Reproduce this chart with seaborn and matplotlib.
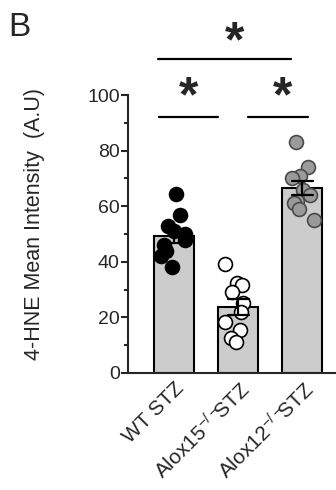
import matplotlib.pyplot as plt
import numpy as np
import pandas as pd
import seaborn as sns

# values (4-HNE mean intensity per animal)
groups = ["WT STZ", "Alox15 STZ", "Alox12 STZ"]
tick_labels = ["WT STZ", r"Alox15$^{-/-}\!\!$STZ", r"Alox12$^{-/-}\!\!$STZ"]
wt_stz = [64.5, 57, 53, 51, 50, 48, 46, 44, 42, 38]
alox15_stz = [39.2, 32.4, 31.6, 29.1, 25.2, 21.9, 18.3, 15.5, 12.6, 11.2]
alox12_stz = [83, 74, 71, 70, 66, 64, 62, 61, 59, 55]
dot_fill = ["black", "white", "#9a9a9a"]
dot_edge = ["black", "black", "#4a4a4a"]

df = pd.DataFrame({
    "group": np.repeat(groups, [len(wt_stz), len(alox15_stz), len(alox12_stz)]),
    "value": wt_stz + alox15_stz + alox12_stz,
})

sns.set_style("ticks")
plt.rcParams["font.family"] = ["Liberation Sans", "DejaVu Sans"]
plt.rcParams["mathtext.fontset"] = "custom"
plt.rcParams["mathtext.rm"] = "Liberation Sans"
plt.rcParams["mathtext.default"] = "regular"

fig = plt.figure(figsize=(3.36, 4.9), dpi=100)
ax = fig.add_axes([0.381, 0.239, 0.619, 0.567])

sns.barplot(data=df, x="group", y="value", order=groups, errorbar=None,
            width=0.625, color="#cccccc", edgecolor="black", linewidth=1.5,
            ax=ax, zorder=1)

np.random.seed(3)
for g, fc, ec in zip(groups, dot_fill, dot_edge):
    sub = df[df["group"] == g]
    sns.stripplot(data=sub, x="group", y="value", order=groups, jitter=0.22,
                  color=fc, edgecolor=ec, linewidth=1.2, size=10, ax=ax, zorder=3)

# SEM error bars on top of the dots
sns.barplot(data=df, x="group", y="value", order=groups, errorbar="se",
            capsize=0.33, width=0.625, fill=False, linewidth=0,
            err_kws={"color": "black", "linewidth": 1.6, "zorder": 4}, ax=ax)

ax.set_xlim(-0.72, 2.53)
ax.set_ylim(0, 100)
ax.set_yticks([0, 20, 40, 60, 80, 100])
ax.set_yticks([10, 30, 50, 70, 90], minor=True)
ax.tick_params(axis="y", which="major", length=5, width=1.5, labelsize=14, pad=1)
ax.tick_params(axis="y", which="minor", length=3, width=1.5)
ax.tick_params(axis="x", length=0, pad=4)
ax.set_xticks(range(len(groups)))
ax.set_xticklabels(tick_labels, rotation=45, ha="right", va="top",
                   rotation_mode="anchor", fontsize=15)
sns.despine(ax=ax)
for s in ["left", "bottom"]:
    ax.spines[s].set_linewidth(1.5)
ax.set_xlabel("")
ax.set_ylabel("4-HNE Mean Intensity  (A.U)", fontsize=15.5)
ax.yaxis.set_label_coords(-0.40, 0.536)

# significance bars
lk = dict(color="black", linewidth=1.6, clip_on=False)
ax.plot([-0.25, 1.83], [113, 113], **lk)
ax.plot([-0.23, 0.69], [92, 92], **lk)
ax.plot([1.16, 2.09], [92, 92], **lk)
sk = dict(ha="center", va="center", fontsize=36, fontweight="bold", clip_on=False)
ax.text(0.95, 118.5, "*", **sk)
ax.text(0.22, 99, "*", **sk)
ax.text(1.69, 99, "*", **sk)

fig.text(0.025, 0.975, "B", fontsize=24, ha="left", va="top")

fig.savefig("out.png", dpi=100)
